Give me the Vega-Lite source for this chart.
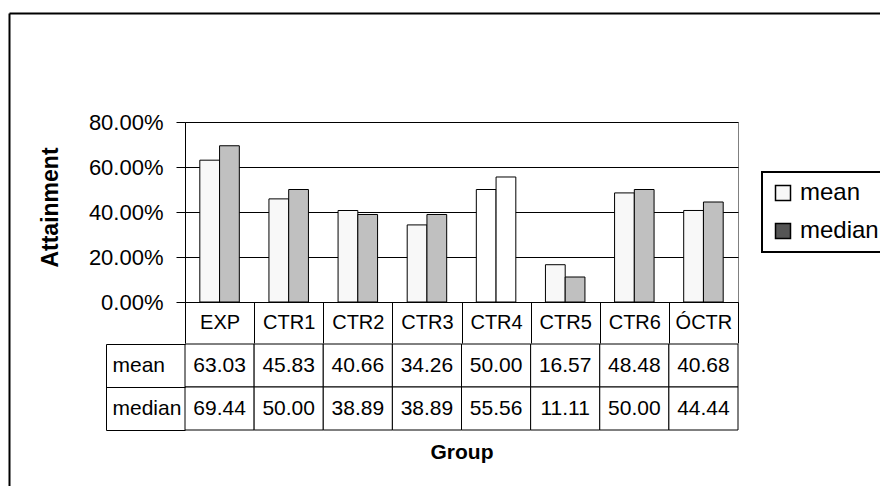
{
  "$schema": "https://vega.github.io/schema/vega-lite/v6.json",
  "autosize": {"type": "none"},
  "padding": {"left": 185, "top": 122, "right": 142, "bottom": 184},
  "width": 553,
  "height": 180,
  "background": "white",
  "data": {
    "values": [
      {"group": "EXP", "stat": "mean", "value": 63.03},
      {"group": "EXP", "stat": "median", "value": 69.44},
      {"group": "CTR1", "stat": "mean", "value": 45.83},
      {"group": "CTR1", "stat": "median", "value": 50.00},
      {"group": "CTR2", "stat": "mean", "value": 40.66},
      {"group": "CTR2", "stat": "median", "value": 38.89},
      {"group": "CTR3", "stat": "mean", "value": 34.26},
      {"group": "CTR3", "stat": "median", "value": 38.89},
      {"group": "CTR4", "stat": "mean", "value": 50.00},
      {"group": "CTR4", "stat": "median", "value": 55.56},
      {"group": "CTR5", "stat": "mean", "value": 16.57},
      {"group": "CTR5", "stat": "median", "value": 11.11},
      {"group": "CTR6", "stat": "mean", "value": 48.48},
      {"group": "CTR6", "stat": "median", "value": 50.00},
      {"group": "ÓCTR", "stat": "mean", "value": 40.68},
      {"group": "ÓCTR", "stat": "median", "value": 44.44}
    ]
  },
  "layer": [
    {
      "layer": [
        {
          "mark": {"type": "bar", "stroke": "black", "strokeWidth": 1},
          "encoding": {
            "x": {
              "field": "group", "type": "nominal",
              "sort": ["EXP", "CTR1", "CTR2", "CTR3", "CTR4", "CTR5", "CTR6", "ÓCTR"],
              "scale": {"paddingInner": 0, "paddingOuter": 0},
              "axis": {
                "orient": "bottom", "domainColor": "black", "tickColor": "black",
                "tickBand": "extent", "tickSize": 41, "labelAngle": 0,
                "labelFontSize": 20, "labelColor": "black", "labelBaseline": "middle",
                "labelPadding": -21, "labelFont": "Liberation Sans",
                "title": "Group", "titleFontSize": 21, "titleFont": "Liberation Sans",
                "titleFontWeight": "bold", "titleColor": "black",
                "titleY": 150, "titleBaseline": "middle"
              }
            },
            "xOffset": {
              "field": "stat", "type": "nominal",
              "scale": {"paddingInner": 0, "paddingOuter": 0.75}
            },
            "y": {
              "field": "value", "type": "quantitative",
              "scale": {"domain": [0, 80], "nice": false},
              "axis": {
                "values": [0, 20, 40, 60, 80],
                "labelExpr": "format(datum.value / 100, '.2%')",
                "grid": true, "gridColor": "black", "gridWidth": 1,
                "domainColor": "black", "tickColor": "black", "tickSize": 9,
                "labelPadding": 13, "labelFontSize": 22, "labelColor": "black",
                "labelFont": "Liberation Sans",
                "title": "Attainment", "titleFontSize": 23, "titleFontWeight": "bold",
                "titleFont": "Liberation Sans", "titleColor": "black",
                "titleAngle": -90, "titleX": -135, "titleY": 85,
                "titleAlign": "center", "titleBaseline": "middle"
              }
            },
            "fill": {
              "field": "stat", "type": "nominal",
              "scale": {"domain": ["mean", "median"], "range": ["#F8F8F8", "#555555"]},
              "condition": [
                {"test": "datum.group === 'CTR4'", "value": "#FFFFFF"},
                {"test": "datum.stat === 'median'", "value": "#C0C0C0"}
              ],
              "legend": {
                "title": null, "orient": "none", "legendX": 577, "legendY": 50,
                "strokeColor": "black", "fillColor": "white",
                "padding": 9, "symbolType": "square", "symbolSize": 225,
                "symbolStrokeColor": "black", "symbolStrokeWidth": 1.5,
                "labelFontSize": 24, "labelFont": "Liberation Sans", "labelColor": "black",
                "labelOffset": 5, "rowPadding": 14,
                "encode": {
                  "symbols": {
                    "update": {
                      "fillOpacity": {"value": 1},
                      "stroke": {"value": "black"},
                      "strokeWidth": {"value": 1.5}
                    }
                  },
                  "legend": {
                    "update": {"strokeWidth": {"value": 2}}
                  }
                }
              }
            }
          }
        },
        {
          "encoding": {
            "x": {
              "field": "group", "type": "nominal",
              "sort": ["EXP", "CTR1", "CTR2", "CTR3", "CTR4", "CTR5", "CTR6", "ÓCTR"]
            },
            "y": {
              "field": "stat", "type": "nominal",
              "scale": {"domain": ["mean", "median"], "range": [222, 308], "paddingInner": 0, "paddingOuter": 0},
              "axis": {
                "orient": "left", "title": null, "offset": 79,
                "domainColor": "black", "tickColor": "black", "tickBand": "extent",
                "tickSize": -79, "labelAlign": "left", "labelBaseline": "middle",
                "labelPadding": 73, "labelFontSize": 21, "labelColor": "black",
                "labelFont": "Liberation Sans", "labelOverlap": false, "grid": false
              }
            }
          },
          "layer": [
            {
              "mark": {"type": "rect", "fill": "white", "stroke": "black", "strokeWidth": 1}
            },
            {
              "mark": {"type": "text", "fontSize": 21, "font": "Liberation Sans", "color": "black", "align": "center", "baseline": "middle"},
              "encoding": {
                "text": {"field": "value", "type": "quantitative", "format": ".2f"}
              }
            }
          ]
        }
      ],
      "resolve": {"scale": {"y": "independent"}, "axis": {"y": "independent"}}
    },
    {
      "mark": {"type": "point", "opacity": 0},
      "encoding": {
        "x": {
          "field": "group", "type": "nominal",
          "scale": {"range": [-176, 695]},
          "axis": {
            "orient": "top", "offset": 109, "title": null, "labels": false,
            "ticks": false, "grid": false, "domainColor": "black", "domainWidth": 2
          }
        },
        "y": {
          "field": "value", "type": "quantitative",
          "scale": {"range": [364, -109]},
          "axis": {
            "orient": "left", "offset": 176, "title": null, "labels": false,
            "ticks": false, "grid": false, "domainColor": "black", "domainWidth": 2
          }
        }
      }
    }
  ],
  "resolve": {"scale": {"x": "independent", "y": "independent"}, "axis": {"x": "independent", "y": "independent"}},
  "config": {
    "view": {"stroke": "#808080", "strokeWidth": 1}
  }
}
